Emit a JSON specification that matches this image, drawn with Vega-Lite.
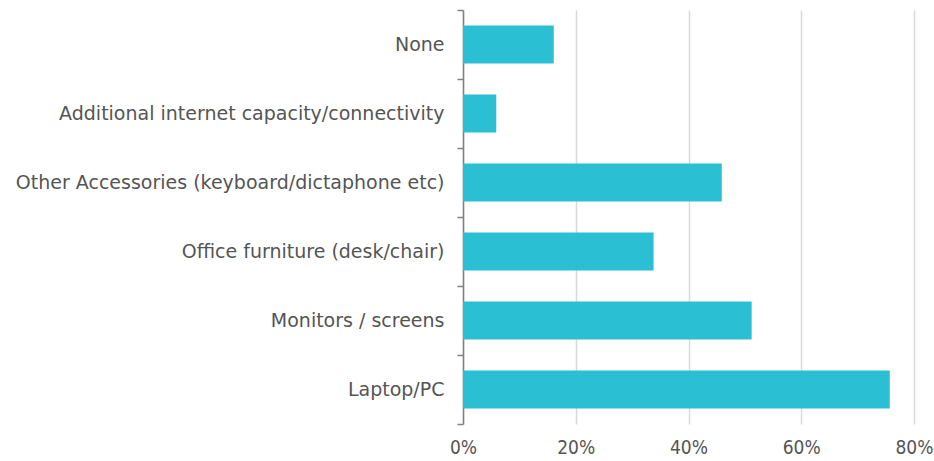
{
  "$schema": "https://vega.github.io/schema/vega-lite/v6.json",
  "width": 451,
  "height": 414,
  "padding": {"left": 8, "top": 1, "right": 20, "bottom": 5},
  "background": "white",
  "data": {
    "values": [
      {"category": "None", "value": 0.161},
      {"category": "Additional internet capacity/connectivity", "value": 0.059},
      {"category": "Other Accessories (keyboard/dictaphone etc)", "value": 0.459},
      {"category": "Office furniture (desk/chair)", "value": 0.338},
      {"category": "Monitors / screens", "value": 0.512},
      {"category": "Laptop/PC", "value": 0.757}
    ]
  },
  "mark": {"type": "bar", "color": "#2BBFD4", "height": {"band": 0.55}},
  "encoding": {
    "y": {
      "field": "category",
      "type": "nominal",
      "sort": null,
      "title": null,
      "scale": {"paddingInner": 0, "paddingOuter": 0},
      "axis": {
        "tickBand": "extent",
        "tickSize": 6,
        "tickColor": "#808080",
        "tickWidth": 1.5,
        "domainColor": "#808080",
        "domainWidth": 1.5,
        "labelPadding": 13,
        "labelFont": "DejaVu Sans",
        "labelFontSize": 19,
        "labelColor": "#555555",
        "labelLimit": 0,
        "minExtent": 455,
        "maxExtent": 455,
        "grid": false
      }
    },
    "x": {
      "field": "value",
      "type": "quantitative",
      "title": null,
      "scale": {"domain": [0, 0.8], "nice": false},
      "axis": {
        "values": [0, 0.2, 0.4, 0.6, 0.8],
        "format": ".0%",
        "ticks": false,
        "domain": false,
        "labelFlush": false,
        "labelPadding": 14,
        "labelFont": "DejaVu Sans Condensed",
        "labelFontSize": 19,
        "labelColor": "#555555",
        "gridColor": "#D9D9D9",
        "gridWidth": 1.5
      }
    }
  },
  "config": {"view": {"stroke": null}}
}
